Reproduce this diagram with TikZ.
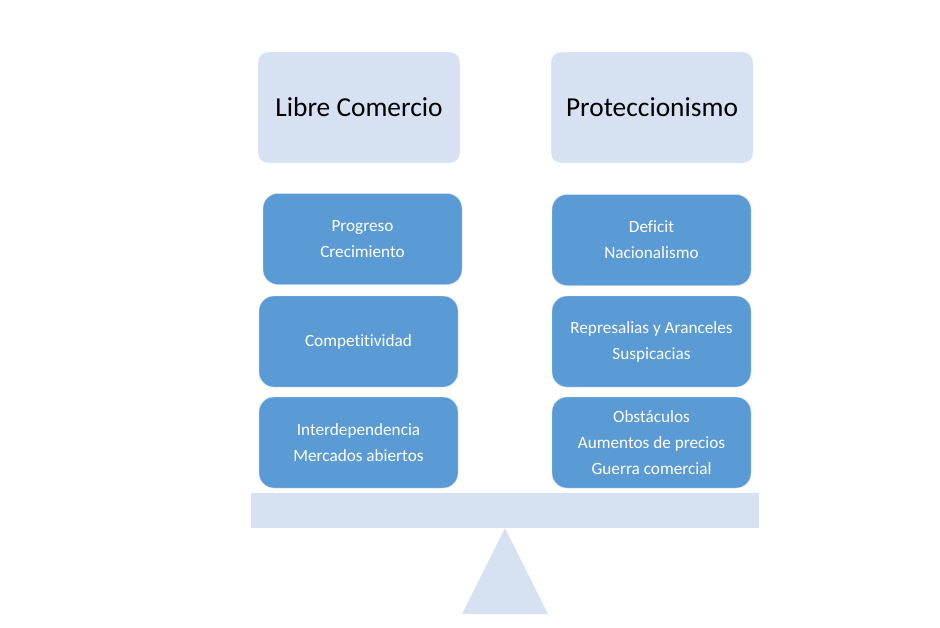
\documentclass[tikz,border=0pt]{standalone}
\usepackage{fontspec}
\setmainfont[Ligatures=CommonOff]{Carlito}
\usepackage{xcolor}
\usetikzlibrary{shapes,backgrounds}

\definecolor{palido}{HTML}{D6E1F2}
\definecolor{azul}{HTML}{5B9BD5}

\begin{document}
\begin{tikzpicture}[x=1pt,y=-1pt]
      \tikzstyle{titulo}=[draw=white!85!palido, fill=palido, thin, minimum width=202pt, minimum height=111pt, rounded corners=10pt, font=\fontsize{27.4}{33}\selectfont]
      \tikzstyle{bloque}=[draw=white!70!azul, fill=azul, thin, minimum width=199pt, minimum height=91pt, rounded corners=15pt, text=white, align=center, font=\fontsize{17.2}{26}\selectfont]
      \tikzstyle{base}=[fill=palido]

      \useasboundingbox (0,0) rectangle (940,627);

      % titulos
      \node [titulo] (libre) at (359,107.5) {Libre Comercio};
      \node [titulo] (prot) at (652,107.5) {Proteccionismo};

      % lado izquierdo
      \node [bloque] (L1) at (362.5,239) {Progreso\\Crecimiento};
      \node [bloque] (L2) at (358.5,341.5) {Competitividad};
      \node [bloque] (L3) at (358.5,442.5) {Interdependencia\\Mercados abiertos};

      % lado derecho
      \node [bloque] (R1) at (651.5,240) {Deficit\\Nacionalismo};
      \node [bloque] (R2) at (651.5,341.5) {Represalias y Aranceles\\Suspicacias};
      \node [bloque] (R3) at (651.5,442.5) {Obst\'aculos\\Aumentos de precios\\Guerra comercial};

      % balanza
      \node (barra) [base, minimum width=508pt, minimum height=35pt, inner sep=0pt] at (505,510.5) {};
      \fill [palido] (barra.south) -- ++(43,86) -- ++(-86,0) -- cycle;

\end{tikzpicture}
\end{document}
